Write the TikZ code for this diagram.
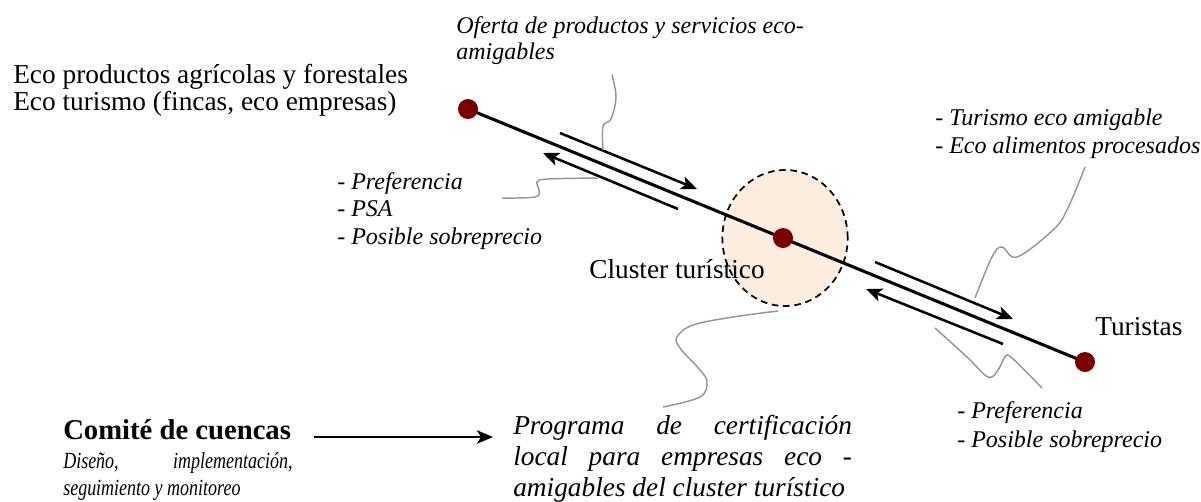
\documentclass[tikz,border=0pt]{standalone}
\usepackage{fontspec}
\setmainfont{Liberation Serif}
\newfontfamily\narrowserif[FakeStretch=0.78]{Liberation Serif}
\usetikzlibrary{shapes.geometric, arrows.meta, calc}
\definecolor{dotred}{RGB}{122,0,0}
\definecolor{clusterfill}{RGB}{253,237,222}
\definecolor{leadgray}{RGB}{150,150,150}
\tikzstyle{arrow} = [line width=1.9pt,-{Stealth[length=12pt,width=10pt,inset=3pt]}]
\tikzstyle{axis} = [line width=2.3pt]
\tikzstyle{dot} = [circle, fill=dotred, inner sep=0pt, minimum size=15pt]
\tikzstyle{leader} = [leadgray, line width=1.1pt]
\tikzstyle{big} = [inner sep=0pt, align=left, anchor=base west, font=\fontsize{20.5}{19.9}\selectfont]
\tikzstyle{note} = [inner sep=0pt, align=left, anchor=base west, font=\itshape\fontsize{18}{19.5}\selectfont]

\begin{document}
\begin{tikzpicture}[x=0.75pt, y=-0.75pt]
    \useasboundingbox (0,0) rectangle (1201,501);

    % Cluster area
    \node[ellipse, draw, fill=clusterfill, line width=1.3pt, dash pattern=on 5pt off 3.5pt,
          minimum width=94pt, minimum height=102pt] (halo) at (785,238) {};

    % Chain
    \coordinate (ecopt) at (468,109);
    \coordinate (turpt) at (1085,362);
    \draw[axis] (ecopt) -- (turpt);
    \node[dot] (eco) at (ecopt) {};
    \node[dot] (cluster) at (783,238) {};
    \node[dot] (tur) at (turpt) {};

    % Labels (anchored at the last baseline)
    \node[big] (supply) at (13,110) {Eco productos agrícolas y forestales\\Eco turismo (fincas, eco empresas)};
    \node[note] (oferta) at (456,59) {Oferta de productos y servicios eco-\\amigables};
    \node[note, font=\itshape\fontsize{18}{20.6}\selectfont] (prefA) at (337,244) {- Preferencia\\- PSA\\- Posible sobreprecio};
    \node[big] (clusterlbl) at (589,278) {Cluster turístico};
    \node[note, font=\itshape\fontsize{18}{21}\selectfont] (demand) at (935,153) {- Turismo eco amigable\\- Eco alimentos procesados};
    \node[big] (turlbl) at (1095,335) {Turistas};
    \node[note, font=\itshape\fontsize{18}{21.7}\selectfont] (prefB) at (957,447) {- Preferencia\\- Posible sobreprecio};
    \node[big, font=\bfseries\fontsize{21.5}{20}\selectfont] (comite) at (63,439) {Comité de cuencas};
    \node[note, font=\narrowserif\itshape\fontsize{17.3}{20.25}\selectfont] (diseno) at (63,495)
        {\makebox[172pt][s]{Diseño, implementación,}\\seguimiento y monitoreo};
    \node[note, font=\itshape\fontsize{20.5}{23.2}\selectfont] (programa) at (513,496)
        {\makebox[254pt][s]{Programa de certificación}\\\makebox[254pt][s]{local para empresas eco -}\\amigables del cluster turístico};

    % Flow arrows
    \coordinate (offerTail) at (560,133);
    \coordinate (offerTip)  at (697,189);
    \coordinate (prefTail)  at (678,209);
    \coordinate (prefTip)   at (543,153);
    \coordinate (demTail)   at (875,262);
    \coordinate (demTip)    at (1013,319);
    \coordinate (payTail)   at (1003,344);
    \coordinate (payTip)    at (866,289);
    \draw[arrow] (offerTail) -- (offerTip);
    \draw[arrow] (prefTail) -- (prefTip);
    \draw[arrow] (demTail) -- (demTip);
    \draw[arrow] (payTail) -- (payTip);
    \draw[arrow] ($(comite.base east)+(23,-2)$) -- ($(comite.base east -| programa.west)+(-20,-2)$);

    % Leaders
    \draw[leader] plot[smooth, tension=0.6] coordinates {(612,75) (616,97) (611,119) (603,126) (603,150)};
    \draw[leader] plot[smooth, tension=0.6] coordinates {(502,198) (535,197) (539,190) (537,182) (548,179) (598,178)};
    \draw[leader] plot[smooth, tension=0.6] coordinates {(1085,167) (1067,210) (1053,230) (1017,257) (1002,247) (992,257) (975,298)};
    \draw[leader] plot[smooth, tension=0.6] coordinates {(935,328) (967,357) (988,377) (998,370) (1005,357) (1012,358) (1042,388)};
    \draw[leader] plot[smooth, tension=0.6] coordinates {(778,311) (733,317) (693,325) (677,337) (680,348) (700,370) (707,382) (700,397) (663,407)};

\end{tikzpicture}
\end{document}
